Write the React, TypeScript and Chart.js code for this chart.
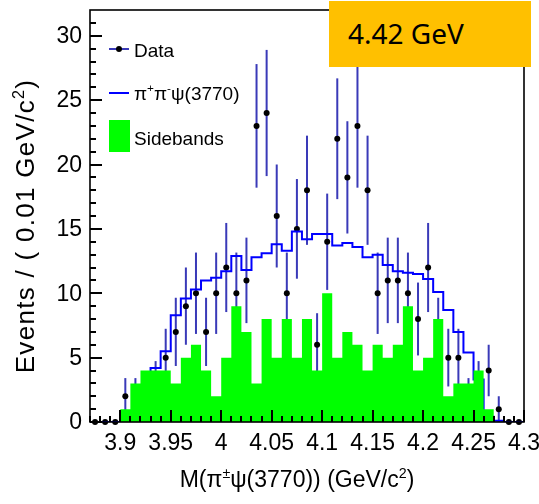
import React, { useEffect, useRef } from 'react';
import { Chart, registerables } from 'chart.js';

Chart.register(...registerables);

// ---- data (bin centres, 0.01 GeV/c^2 bins) ----
const BIN_CENTERS = [
  3.875, 3.885, 3.895, 3.905, 3.915, 3.925, 3.935, 3.945, 3.955, 3.965,
  3.975, 3.985, 3.995, 4.005, 4.015, 4.025, 4.035, 4.045, 4.055, 4.065,
  4.075, 4.085, 4.095, 4.105, 4.115, 4.125, 4.135, 4.145, 4.155, 4.165,
  4.175, 4.185, 4.195, 4.205, 4.215, 4.225, 4.235, 4.245, 4.255, 4.265,
  4.275, 4.285, 4.295,
];
const DATA_COUNTS = [
  0, 0, 0, 2, 2, 1, 3, 5, 7, 9,
  10, 7, 10, 12, 10, 11, 23, 24, 16, 10,
  15, 18, 6, 14, 22, 19, 23, 18, 10, 11,
  11, 10, 8, 12, 7, 5, 5, 2, 3, 4,
  1, 0, 0,
];
const DATA_ERRORS = [
  0, 0, 0, 1.41, 1.41, 1, 1.73, 2.24, 2.65, 3,
  3.16, 2.65, 3.16, 3.46, 3.16, 3.32, 4.8, 4.9, 4, 3.16,
  3.87, 4.24, 2.45, 3.74, 4.69, 4.36, 4.8, 4.24, 3.16, 3.32,
  3.32, 3.16, 2.83, 3.46, 2.65, 2.24, 2.24, 1.41, 1.73, 2,
  1, 0, 0,
];
const SIDEBANDS = [
  0, 0, 0, 1, 3, 4, 4, 4, 3, 5,
  6, 4, 2, 5, 9, 7, 3, 8, 5, 8,
  5, 8, 4, 10, 5, 7, 6, 4, 6, 5,
  6, 9, 4, 5, 8, 2, 3, 3, 4, 1,
  0, 0, 0,
];
const FIT = [
  0, 0, 0, 0.2, 0.8, 2.3, 4.2, 5.5, 8.3, 9.6,
  10.3, 11.0, 11.2, 11.7, 12.9, 11.8, 12.8, 13.1, 13.8, 13.3,
  14.8, 14.2, 14.6, 14.6, 13.7, 13.9, 13.6, 12.8, 13.0, 12.2,
  11.7, 11.6, 11.5, 11.1, 10.1, 8.7, 7.0, 5.4, 3.3, 0.4,
  0.1, 0, 0,
];
const X_TICK_VALUES = [3.9, 3.95, 4.0, 4.05, 4.1, 4.15, 4.2, 4.25, 4.3];
const X_TICK_LABELS = ['3.9', '3.95', '4', '4.05', '4.1', '4.15', '4.2', '4.25', '4.3'];
const Y_TICK_VALUES = [0, 5, 10, 15, 20, 25, 30];
const Y_TICK_LABELS = ['0', '5', '10', '15', '20', '25', '30'];

const X_MIN = 3.87;
const X_MAX = 4.3;
const Y_MIN = 0;
const Y_MAX = 32;
const HALF_BIN = 0.005;

const FONT = '"Liberation Sans", Arial, sans-serif';
const ERR_COLOR = '#3a3ab8';
const FIT_COLOR = '#0000ff';
const SB_COLOR = '#00ff00';

type Part = { t: string; sup?: boolean };

function drawRich(ctx: CanvasRenderingContext2D, parts: Part[], x: number, y: number, size: number, align: 'left' | 'center') {
  const supSize = size * 0.62;
  const widths = parts.map((p) => {
    ctx.font = `${p.sup ? supSize : size}px ${FONT}`;
    return ctx.measureText(p.t).width;
  });
  const total = widths.reduce((a, b) => a + b, 0);
  let cx = align === 'center' ? x - total / 2 : x;
  ctx.textAlign = 'left';
  ctx.textBaseline = 'alphabetic';
  parts.forEach((p, i) => {
    ctx.font = `${p.sup ? supSize : size}px ${FONT}`;
    ctx.fillText(p.t, cx, p.sup ? y - size * 0.4 : y);
    cx += widths[i];
  });
}

function histPoints(values: number[]) {
  const pts: { x: number; y: number }[] = [];
  BIN_CENTERS.forEach((c, i) => {
    pts.push({ x: c - HALF_BIN, y: values[i] });
    pts.push({ x: c + HALF_BIN, y: values[i] });
  });
  return pts;
}

function drawTicks(chart: any) {
  const { ctx, chartArea: ca, scales } = chart;
  const xs = scales.x;
  const ys = scales.y;
  ctx.save();
  ctx.fillStyle = '#000';
  const left = Math.round(ca.left);
  const bottom = Math.round(ca.bottom);
  for (let v = Y_MIN; v <= Y_MAX - 1; v++) {
    const py = Math.round(ys.getPixelForValue(v));
    const len = v % 5 === 0 ? 12 : 6;
    ctx.fillRect(left, py - 1, len, 2);
  }
  for (let k = 387; k <= 430; k++) {
    const px = Math.round(xs.getPixelForValue(k / 100));
    const len = k % 5 === 0 ? 12 : 6;
    ctx.fillRect(px - 1, bottom - len, 2, len);
  }
  ctx.strokeStyle = '#000';
  ctx.lineWidth = 1.6;
  ctx.strokeRect(ca.left, ca.top, ca.right - ca.left, ca.bottom - ca.top);
  ctx.restore();
}

const errorBarPlugin = {
  id: 'errorBars',
  beforeDatasetDraw(chart: any, args: any) {
    if (args.index !== 2) return;
    const { ctx, scales } = chart;
    const xs = scales.x;
    const ys = scales.y;
    ctx.save();
    ctx.fillStyle = ERR_COLOR;
    BIN_CENTERS.forEach((c, i) => {
      const e = DATA_ERRORS[i];
      if (!e) return;
      const px = xs.getPixelForValue(c);
      const top = ys.getPixelForValue(DATA_COUNTS[i] + e);
      const bot = ys.getPixelForValue(DATA_COUNTS[i] - e);
      ctx.fillRect(px - 1, top, 2, bot - top);
    });
    ctx.restore();
  },
};

const axesPlugin = {
  id: 'rootAxes',
  afterDraw(chart: any) {
    const { ctx, chartArea: ca, scales } = chart;
    const xs = scales.x;
    const ys = scales.y;
    ctx.save();
    // tick labels
    ctx.fillStyle = '#000';
    ctx.font = `23px ${FONT}`;
    ctx.textAlign = 'right';
    ctx.textBaseline = 'middle';
    Y_TICK_VALUES.forEach((v, i) => {
      ctx.fillText(Y_TICK_LABELS[i], ca.left - 8, ys.getPixelForValue(v) + 1);
    });
    ctx.textAlign = 'center';
    ctx.textBaseline = 'alphabetic';
    X_TICK_VALUES.forEach((v, i) => {
      ctx.fillText(X_TICK_LABELS[i], xs.getPixelForValue(v), ca.bottom + 28);
    });

    // axis titles
    drawRich(ctx, [
      { t: 'M(\u03c0' }, { t: '\u00b1', sup: true }, { t: '\u03c8(3770)) (GeV/c' }, { t: '2', sup: true }, { t: ')' },
    ], 297, 487, 23, 'center');
    ctx.save();
    ctx.translate(34, 226);
    ctx.rotate(-Math.PI / 2);
    (ctx as any).letterSpacing = '1.3px';
    drawRich(ctx, [
      { t: 'Events / ( 0.01 GeV/c' }, { t: '2', sup: true }, { t: ')' },
    ], 0, 0, 26, 'center');
    (ctx as any).letterSpacing = '0px';
    ctx.restore();

    // legend
    const lx0 = 109;
    const tx = 134;
    ctx.fillStyle = ERR_COLOR;
    ctx.fillRect(lx0, 48, 20, 2);
    ctx.fillStyle = '#000';
    ctx.beginPath();
    ctx.arc(119, 49, 3, 0, Math.PI * 2);
    ctx.fill();
    ctx.fillStyle = FIT_COLOR;
    ctx.fillRect(lx0, 92, 20, 2);
    ctx.fillStyle = SB_COLOR;
    ctx.fillRect(109, 120, 21, 32);
    ctx.fillStyle = '#000';
    ctx.font = `19px ${FONT}`;
    ctx.textAlign = 'left';
    ctx.textBaseline = 'alphabetic';
    ctx.fillText('Data', tx, 57);
    drawRich(ctx, [
      { t: '\u03c0' }, { t: '+', sup: true }, { t: '\u03c0' }, { t: '-', sup: true }, { t: '\u03c8(3770)' },
    ], tx, 100, 19, 'left');
    ctx.font = `19px ${FONT}`;
    ctx.fillText('Sidebands', tx, 145);
    ctx.restore();
    drawTicks(chart);
  },
};

export default function App() {
  const canvasRef = useRef<HTMLCanvasElement | null>(null);

  useEffect(() => {
    const canvas = canvasRef.current;
    if (!canvas) return;
    const chart = new Chart(canvas, {
      type: 'line',
      data: {
        datasets: [
          {
            label: 'Sidebands',
            data: histPoints(SIDEBANDS),
            borderWidth: 0,
            borderColor: 'rgba(0,0,0,0)',
            backgroundColor: SB_COLOR,
            fill: 'origin',
            pointRadius: 0,
            tension: 0,
          },
          {
            label: '\u03c0\u207a\u03c0\u207b\u03c8(3770)',
            data: histPoints(FIT),
            borderWidth: 2,
            borderColor: FIT_COLOR,
            fill: false,
            pointRadius: 0,
            tension: 0,
          },
          {
            label: 'Data',
            data: BIN_CENTERS.map((c, i) => ({ x: c, y: DATA_COUNTS[i] })),
            showLine: false,
            pointRadius: 3,
            pointBackgroundColor: '#000',
            pointBorderWidth: 0,
            borderColor: '#000',
            clip: false,
          },
        ],
      },
      options: {
        animation: false,
        responsive: false,
        devicePixelRatio: 1,
        layout: { padding: { left: 90, top: 10, right: 15, bottom: 82 } },
        plugins: { legend: { display: false }, tooltip: { enabled: false } },
        scales: {
          x: { type: 'linear', min: X_MIN, max: X_MAX, display: false },
          y: { type: 'linear', min: Y_MIN, max: Y_MAX, display: false },
        },
      },
      plugins: [errorBarPlugin, axesPlugin],
    } as any);
    return () => chart.destroy();
  }, []);

  return (
    <div style={{ position: 'absolute', left: 0, top: 0, width: 539, height: 504 }}>
      <canvas ref={canvasRef} width={539} height={504} style={{ display: 'block' }} />
      <div
        style={{
          position: 'absolute',
          left: 329,
          top: 1,
          width: 202,
          height: 66,
          background: '#ffc000',
          fontFamily: '"Noto Sans", "Open Sans", sans-serif',
          fontSize: 28,
          color: '#000',
          boxSizing: 'border-box',
          paddingLeft: 19,
          lineHeight: '64px',
        }}
      >
        4.42 GeV
      </div>
    </div>
  );
}
